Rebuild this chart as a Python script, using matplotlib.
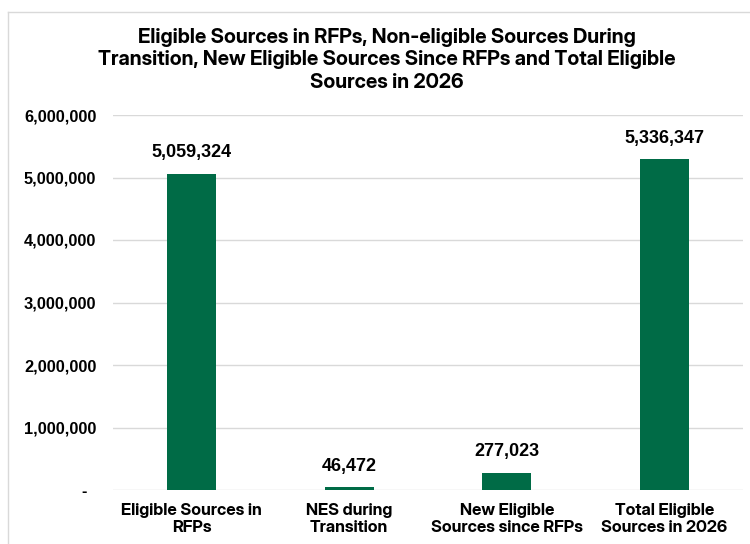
import matplotlib
matplotlib.use("Agg")
import matplotlib.pyplot as plt
from matplotlib.lines import Line2D
from matplotlib.ticker import FuncFormatter, MultipleLocator

categories = ["Eligible Sources in\nRFPs", "NES during\nTransition",
              "New Eligible\nSources since RFPs", "Total Eligible\nSources in 2026"]
values = [5059324, 46472, 277023, 5289875]
value_labels = ["5,059,324", "46,472", "277,023", "5,336,347"]
title = ("Eligible Sources in RFPs, Non-eligible Sources During\n"
         "Transition, New Eligible Sources Since RFPs and Total Eligible\n"
         "Sources in 2026")

BAR = "#006B46"
GRID = "#D9D9D9"

fig = plt.figure(figsize=(7.5, 5.44), dpi=100)
W, H = 750, 544
ax = fig.add_axes([113 / W, 1 - 490 / H, (743 - 113) / W, (490 - 115) / H])

x = list(range(len(categories)))
bars = ax.bar(x, values, width=0.31, color=BAR, zorder=3)

ax.set_xlim(-0.5, len(categories) - 0.5)
ax.set_ylim(0, 6000000)
ax.yaxis.set_major_locator(MultipleLocator(1000000))
ax.yaxis.set_major_formatter(FuncFormatter(lambda v, p: "-  " if v == 0 else f"{int(v):,}"))
ax.grid(axis="y", color=GRID, lw=1, zorder=0)
for s in ax.spines.values():
    s.set_visible(False)
ax.tick_params(axis="both", length=0)
ax.tick_params(axis="y", pad=12)
ax.tick_params(axis="x", pad=9)
for lab in ax.get_yticklabels():
    lab.set_family("Liberation Sans")
    lab.set_weight("bold")
    lab.set_fontsize(11.8)

ax.set_xticks(x)
ax.set_xticklabels(categories, family="Inter Display", weight="bold",
                   fontsize=12, linespacing=1.2)

for xi, v, t in zip(x, values, value_labels):
    ax.annotate(t, (xi, v), xytext=(0, 9), textcoords="offset points",
                ha="center", va="bottom", family="Liberation Sans",
                weight="bold", fontsize=13)

fig.text(387 / W, 1 - 28 / H, title, ha="center", va="top",
         family="Inter Display", weight="bold", fontsize=14.6, linespacing=1.22)

# outer chart border (top and left edges)
fig.add_artist(Line2D([8 / W, 1.0], [1 - 11.5 / H, 1 - 11.5 / H], color=GRID, lw=1))
fig.add_artist(Line2D([8 / W, 8 / W], [0, 1 - 11.5 / H], color=GRID, lw=1))

fig.savefig("out.png", dpi=100)
